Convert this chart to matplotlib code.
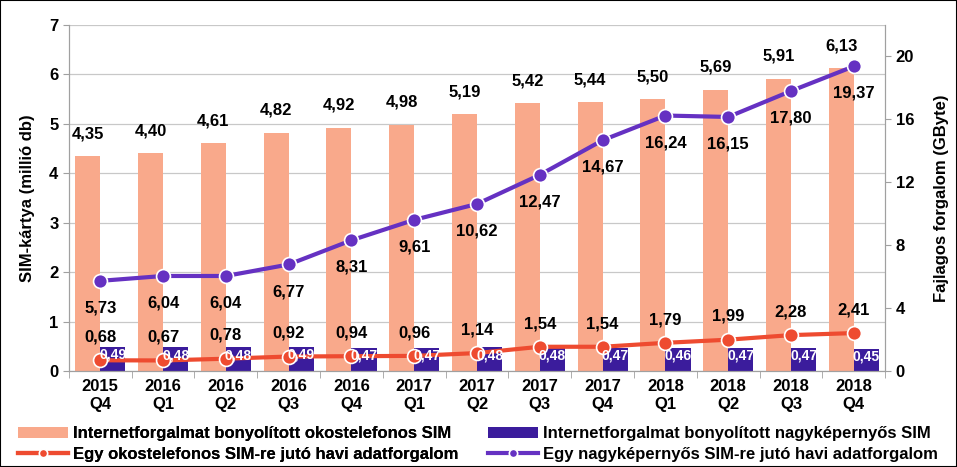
import matplotlib.pyplot as plt
import numpy as np

plt.rcParams['font.family'] = ['Liberation Sans', 'DejaVu Sans']

quarters = ['2015\nQ4', '2016\nQ1', '2016\nQ2', '2016\nQ3', '2016\nQ4', '2017\nQ1', '2017\nQ2',
            '2017\nQ3', '2017\nQ4', '2018\nQ1', '2018\nQ2', '2018\nQ3', '2018\nQ4']
smart_sim = [4.35, 4.40, 4.61, 4.82, 4.92, 4.98, 5.19, 5.42, 5.44, 5.50, 5.69, 5.91, 6.13]
large_sim = [0.49, 0.48, 0.48, 0.49, 0.47, 0.47, 0.48, 0.48, 0.47, 0.46, 0.47, 0.47, 0.45]
smart_traffic = [0.68, 0.67, 0.78, 0.92, 0.94, 0.96, 1.14, 1.54, 1.54, 1.79, 1.99, 2.28, 2.41]
large_traffic = [5.73, 6.04, 6.04, 6.77, 8.31, 9.61, 10.62, 12.47, 14.67, 16.24, 16.15, 17.80, 19.37]

c_orange = '#F9A98B'
c_bar_purple = '#3B1C9C'
c_red = '#EE4B30'
c_line_purple = '#6531C2'

def fmt(v):
    return f'{v:.2f}'.replace('.', ',')

fig = plt.figure(figsize=(9.57, 4.67), dpi=100)
ax = fig.add_axes([0.072, 0.2056, 0.853, 0.741])
ax2 = ax.twinx()

x = np.arange(len(quarters))
w = 0.4
b1 = ax.bar(x - w / 2, smart_sim, w, color=c_orange, zorder=2,
            label='Internetforgalmat bonyolított okostelefonos SIM')
b2 = ax.bar(x + w / 2, large_sim, w, color=c_bar_purple, zorder=2,
            label='Internetforgalmat bonyolított nagyképernyős SIM')

for xi, v in zip(x, smart_sim):
    ax.text(xi - w / 2, v + 0.3, fmt(v), ha='center', va='bottom',
            fontsize=12, fontweight='bold')

l1, = ax2.plot(x, smart_traffic, color=c_red, lw=3, marker='o', ms=10,
               markeredgecolor='white', markeredgewidth=1.2, zorder=4,
               label='Egy okostelefonos SIM-re jutó havi adatforgalom')
l2, = ax2.plot(x, large_traffic, color=c_line_purple, lw=3, marker='o', ms=10,
               markeredgecolor='white', markeredgewidth=1.2, zorder=4,
               label='Egy nagyképernyős SIM-re jutó havi adatforgalom')

# white labels of the large-screen bars sit on top of the red line
for xi, v in zip(x, large_sim):
    ax2.text(xi + w / 2, v * 0.66, fmt(v), ha='center', va='center',
             fontsize=10, fontweight='bold', color='white', zorder=6,
             transform=ax.transData)

for xi, v in zip(x, smart_traffic):
    ax2.text(xi, v + 1.0, fmt(v), ha='center', va='bottom',
             fontsize=12, fontweight='bold')
for xi, v in zip(x, large_traffic):
    ax2.text(xi, v - 1.25, fmt(v), ha='center', va='top',
             fontsize=12, fontweight='bold')

ax.set_xlim(-0.5, len(quarters) - 0.5)
ax.set_ylim(0, 7)
ax2.set_ylim(0, 22)
ax.set_yticks(range(0, 8))
ax2.set_yticks(range(0, 21, 4))
ax.set_xticks(x)
ax.set_xticklabels(quarters, fontsize=12, fontweight='bold')
ax.set_xticks(np.arange(-0.5, len(quarters)), minor=True)
ax.tick_params(axis='x', which='major', length=0, pad=6)
ax.tick_params(axis='x', which='minor', length=5, color='#A0A0A0')
ax.tick_params(axis='y', labelsize=12, length=4, color='#A0A0A0')
ax2.tick_params(axis='y', labelsize=12, length=4, color='#A0A0A0')
for lab in ax.get_yticklabels() + ax2.get_yticklabels():
    lab.set_fontweight('bold')

ax.grid(axis='y', color='#C8C8C8', lw=0.9, zorder=0)
ax.set_axisbelow(True)
for a in (ax, ax2):
    a.spines['top'].set_visible(False)
    for s in ('left', 'right', 'bottom'):
        a.spines[s].set_color('#A0A0A0')

ax.set_ylabel('SIM-kártya (millió db)', fontsize=12, fontweight='bold', labelpad=10)
ax2.set_ylabel('Fajlagos forgalom (GByte)', fontsize=12, fontweight='bold', labelpad=14)

ax.set_zorder(ax2.get_zorder() - 1)
ax.patch.set_visible(False)
ax2.patch.set_visible(False)

leg_kw = dict(loc='lower left', frameon=False, prop={'size': 12, 'weight': 'bold'},
              handlelength=3.0, markerscale=0.6, handletextpad=0.3, labelspacing=0.35,
              borderaxespad=0)
leg_a = fig.legend([b1, l1], [b1.get_label(), l1.get_label()],
                   bbox_to_anchor=(0.012, -0.004), **leg_kw)
fig.legend([b2, l2], [b2.get_label(), l2.get_label()],
           bbox_to_anchor=(0.503, -0.004), **leg_kw)
fig.add_artist(leg_a)

fig.patches.append(plt.Rectangle((0, 0), 1, 1, transform=fig.transFigure, fill=False,
                                 edgecolor='black', lw=1.5))
fig.savefig('out.png', dpi=100)
